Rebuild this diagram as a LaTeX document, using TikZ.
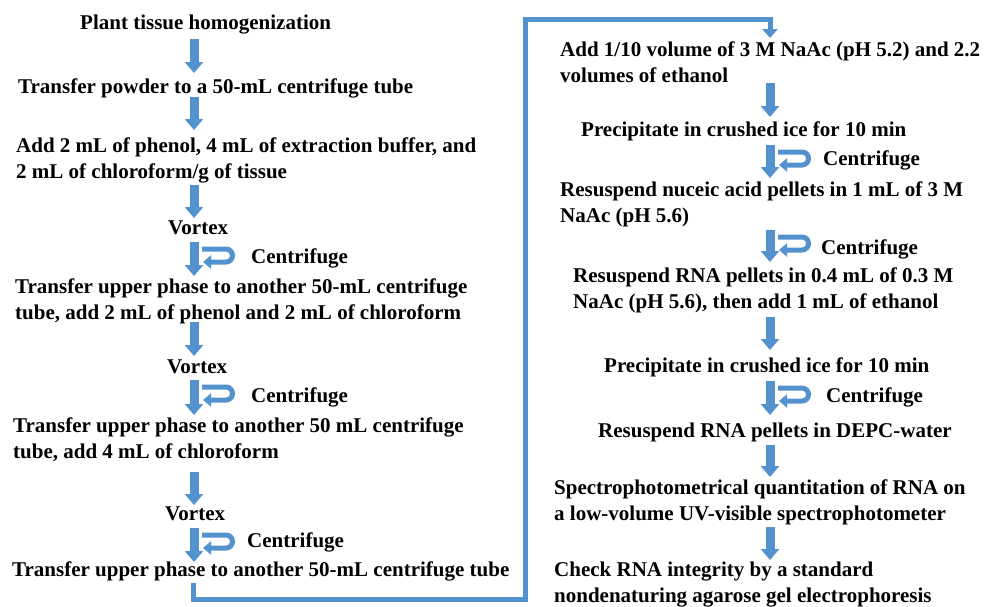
\documentclass[tikz,border=0pt]{standalone}
\usepackage{fontspec}
\setmainfont{Liberation Serif}
\usetikzlibrary{arrows.meta}
\definecolor{flowblue}{RGB}{84,146,207}
\begin{document}
\begin{tikzpicture}[x=1pt,y=-1pt,
  txt/.style={anchor=base west, inner sep=0pt, align=left,
    font=\bfseries\fontsize{21}{26}\selectfont},
  blk/.style={draw=flowblue, line width=9pt, -{Triangle[length=11pt,width=18pt]}},
  spinarrow/.style={draw=flowblue, line width=5pt, -{Triangle[length=8pt,width=13pt]}},
  conn/.style={draw=flowblue, line width=5pt, line join=miter,
    -{Triangle[length=9pt,width=15pt]}},
  pics/spin/.style={code={\draw[spinarrow] (8,7) -- (32,7) arc(-90:90:6.5) -- (9,20);}}]
\useasboundingbox (0,0) rectangle (988,606);
% left column texts (anchor = baseline of the last line)
\node[txt] (t1) at (80,29) {Plant tissue homogenization};
\node[txt] (t2) at (18,93) {Transfer powder to a 50-mL centrifuge tube};
\node[txt] (t3) at (16,178) {Add 2 mL of phenol, 4 mL of extraction buffer, and\\2 mL of chloroform/g of tissue};
\node[txt] (v1) at (168,234) {Vortex};
\node[txt] (c1) at (251,263) {Centrifuge};
\node[txt] (t4) at (15,319) {Transfer upper phase to another 50-mL centrifuge\\tube, add 2 mL of phenol and 2 mL of chloroform};
\node[txt] (v2) at (167,373) {Vortex};
\node[txt] (c2) at (251,402) {Centrifuge};
\node[txt] (t5) at (13,458) {Transfer upper phase to another 50 mL centrifuge\\tube, add 4 mL of chloroform};
\node[txt] (v3) at (165,520) {Vortex};
\node[txt] (c3) at (247,547) {Centrifuge};
\node[txt] (t6) at (12,576) {Transfer upper phase to another 50-mL centrifuge tube};
% right column texts
\node[txt] (r1) at (560,82) {Add 1/10 volume of 3 M NaAc (pH 5.2) and 2.2\\volumes of ethanol};
\node[txt] (r2) at (581,136) {Precipitate in crushed ice for 10 min};
\node[txt] (c4) at (823,165) {Centrifuge};
\node[txt] (r3) at (560,222) {Resuspend nuceic acid pellets in 1 mL of 3 M\\NaAc (pH 5.6)};
\node[txt] (c5) at (821,254) {Centrifuge};
\node[txt] (r4) at (573,308) {Resuspend RNA pellets in 0.4 mL of 0.3 M\\NaAc (pH 5.6), then add 1 mL of ethanol};
\node[txt] (r5) at (604,372) {Precipitate in crushed ice for 10 min};
\node[txt] (c6) at (826,402) {Centrifuge};
\node[txt] (r6) at (598,437) {Resuspend RNA pellets in DEPC-water};
\node[txt] (r7) at (554,520) {Spectrophotometrical quantitation of RNA on\\a low-volume UV-visible spectrophotometer};
\node[txt] (r8) at (554,602) {Check RNA integrity by a standard\\nondenaturing agarose gel electrophoresis};
% left column arrows
\foreach \i/\ya/\yb in {1/39/73, 2/97/130, 3/185/218, 4/242/276, 5/322/356, 6/380/415, 7/472/505, 8/528/562}{
  \coordinate (La\i) at (194,\ya);
  \coordinate (Lb\i) at (194,\yb);
  \draw[blk] (La\i) -- (Lb\i);
}
% right column arrows
\foreach \i/\ya/\yb in {1/83/117, 2/145/178, 3/230/262, 4/317/350, 5/381/415, 6/445/477, 7/527/560}{
  \coordinate (Ra\i) at (770,\ya);
  \coordinate (Rb\i) at (770,\yb);
  \draw[blk] (Ra\i) -- (Rb\i);
}
% centrifuge symbols
\pic at (La4) {spin};
\pic at (La6) {spin};
\pic at (La8) {spin};
\pic at (Ra2) {spin};
\pic at (Ra3) {spin};
\pic at (Ra5) {spin};
% connector between columns
\coordinate (cs) at (193,583);
\coordinate (ce) at (770,38);
\draw[conn] (cs) |- (525,599) -- (525,19) -| (ce);
\end{tikzpicture}
\end{document}
